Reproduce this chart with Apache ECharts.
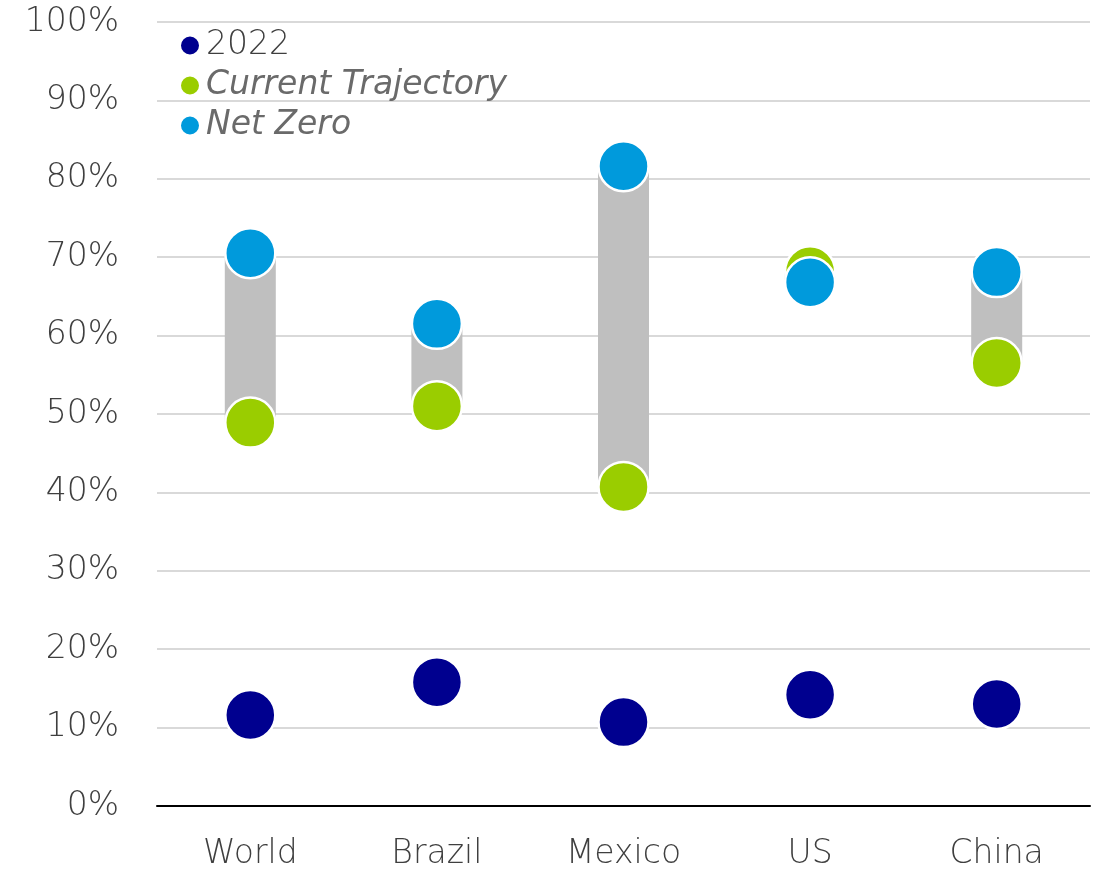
<!DOCTYPE html>
<html><head><meta charset="utf-8">
<script src="https://cdn.jsdelivr.net/npm/echarts@6/dist/echarts.min.js"></script>
<style>html,body{margin:0;padding:0;background:#fff}#c{width:1099px;height:871px}</style>
</head><body><div id="c"></div>
<script>
const categories = ['World','Brazil','Mexico','US','China'];
const values2022 = [11.6, 15.8, 10.7, 14.2, 13.0];
const currentTrajectory = [48.9, 51.0, 40.7, 68.2, 56.5];
const netZero = [70.5, 61.5, 81.6, 66.8, 68.1];
const yTicks = [0,10,20,30,40,50,60,70,80,90,100];

const rangeBase = currentTrajectory.map((v,i)=>Math.min(v, netZero[i]));
const rangeSpan = currentTrajectory.map((v,i)=>Math.abs(netZero[i]-v));

const chart = echarts.init(document.getElementById('c'));
const font = 'DejaVu Sans';
const txt = '#3f3f3f';
const dot = (name, data, color) => ({
  name, type:'scatter', data, symbol:'circle', symbolSize:50, z:5,
  itemStyle:{color, borderColor:'#fff', borderWidth:2.5, opacity:1}
});
chart.setOption({
  animation:false,
  grid:{left:157, right:9, top:22, bottom:65},
  legend:{
    orient:'vertical', left:179, top:29, padding:0, itemWidth:20, itemHeight:20, itemGap:7,
    icon:'circle',
    data:[
      {name:'2022', textStyle:{fontStyle:'normal', fontWeight:200, color:txt}},
      {name:'Current Trajectory', textStyle:{fontStyle:'italic', fontWeight:'normal', color:'#6a6a6a'}},
      {name:'Net Zero', textStyle:{fontStyle:'italic', fontWeight:'normal', color:'#6a6a6a'}}
    ],
    textStyle:{fontFamily:font, fontSize:33, padding:[0,0,0,1]}
  },
  xAxis:{
    type:'category', data:categories,
    axisLine:{lineStyle:{color:'#000', width:2}},
    axisTick:{show:false},
    axisLabel:{fontFamily:font, fontWeight:200, fontSize:33, color:txt, margin:32}
  },
  yAxis:{
    type:'value', min:yTicks[0], max:yTicks[yTicks.length-1], interval:10,
    axisLine:{show:false}, axisTick:{show:false},
    splitLine:{lineStyle:{color:'#d9d9d9', width:2}},
    axisLabel:{fontFamily:font, fontWeight:200, fontSize:33, color:txt, margin:38,
      formatter: v => v + '%'}
  },
  series:[
    {type:'bar', stack:'r', data:rangeBase, barWidth:51, itemStyle:{color:'transparent'}, silent:true, z:1},
    {type:'bar', stack:'r', data:rangeSpan, barWidth:51, itemStyle:{color:'#bfbfbf'}, silent:true, z:1},
    dot('2022', values2022, '#00008f'),
    dot('Current Trajectory', currentTrajectory, '#9acd00'),
    dot('Net Zero', netZero, '#009adc')
  ]
});
</script></body></html>
